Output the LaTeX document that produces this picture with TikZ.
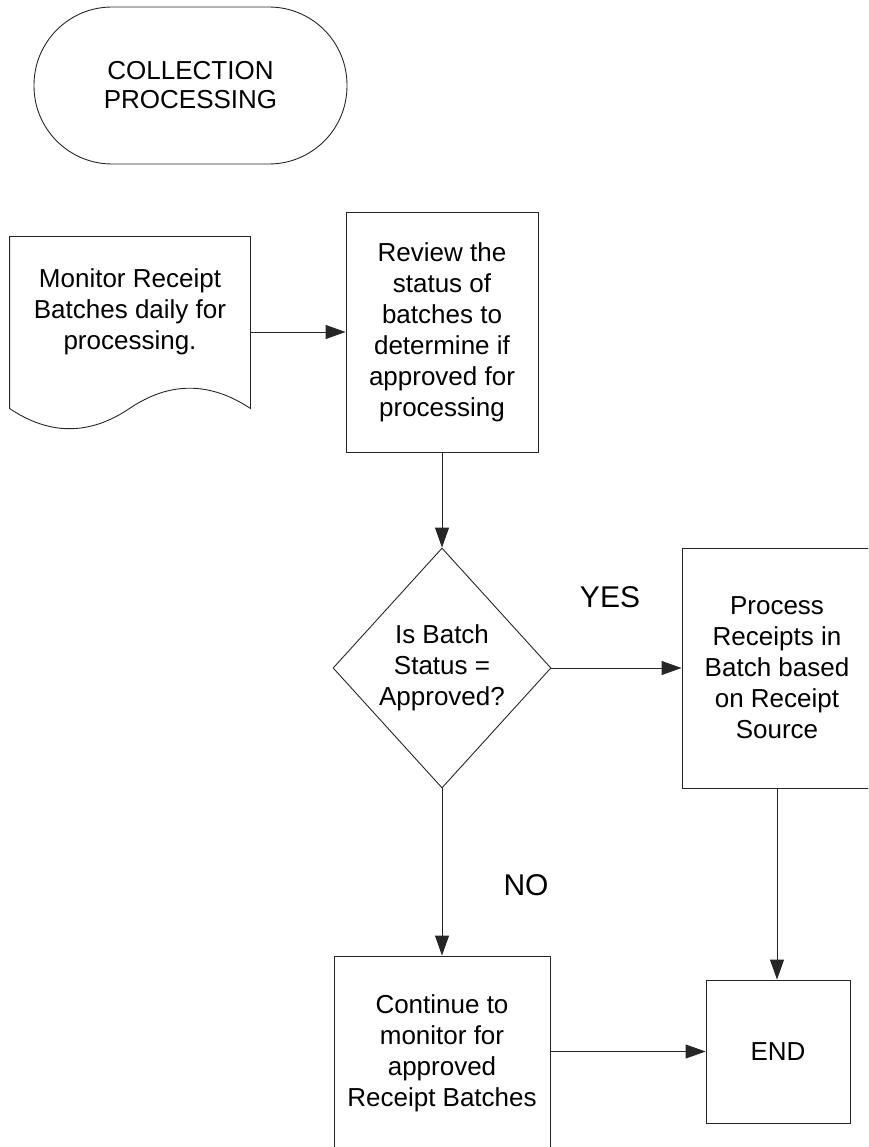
\documentclass[tikz,border=0pt]{standalone}
\usepackage{fontspec}
\setmainfont{Liberation Sans}
\usetikzlibrary{shapes.geometric,arrows.meta}
\begin{document}
\begin{tikzpicture}[x=1pt,y=-1pt,
  line width=0.9pt,
  outline/.style={draw=black!85},
  body/.style={font=\fontsize{26}{31}\selectfont, align=center},
  stepbox/.style={outline, body, inner sep=0pt},
  flow/.style={outline, -{Triangle[length=20pt,width=14pt]}},
  tag/.style={font=\fontsize{30}{36}\selectfont}]
\useasboundingbox (0,0) rectangle (868,1147);
\clip (0,0) rectangle (868,1147);

% start terminator
\node[outline, rounded corners=78pt, minimum width=313pt, minimum height=157pt,
      inner sep=0pt, align=center, font=\fontsize{26}{29}\selectfont]
      (start) at (190.5,85.5) {COLLECTION\\PROCESSING};

% document shape with wavy bottom
\node[minimum width=240pt, minimum height=171pt, inner sep=0pt] (doc) at (130,322.5) {};
\draw[outline] (doc.north west) -- (doc.south west)
  .. controls ([xshift=40pt,yshift=-27pt]doc.south west) and ([xshift=80pt,yshift=-27pt]doc.south west)
  .. ([xshift=120pt]doc.south west)
  .. controls ([xshift=160pt,yshift=27pt]doc.south west) and ([xshift=200pt,yshift=27pt]doc.south west)
  .. (doc.south east) -- (doc.north east) -- cycle;
\node[body] (doctext) at (130,312) {Monitor Receipt\\Batches daily for\\processing.};

% process steps
\node[stepbox, minimum width=192pt, minimum height=240pt] (rev) at (442,332)
  {Review the\\status of\\batches to\\determine if\\approved for\\processing};

\node[outline, diamond, minimum width=218pt, minimum height=240pt, inner sep=0pt] (dec) at (442,668) {};
\node[body] (dectext) at (dec) {Is Batch\\Status =\\Approved?};

\node[stepbox, minimum width=190pt, minimum height=240pt] (proc) at (777,668)
  {Process\\Receipts in\\Batch based\\on Receipt\\Source};

\node[stepbox, minimum width=216pt, minimum height=194pt] (cont) at (442,1053)
  {Continue to\\monitor for\\approved\\Receipt Batches};

\node[stepbox, minimum width=144pt, minimum height=143pt] (end) at (778,1051.5) {END};

% branch labels
\node[tag] (yes) at (610,597) {YES};
\node[tag] (no) at (526,885) {NO};

% connectors
\draw[flow] (doc.east |- rev.west) -- (rev.west);
\draw[flow] (rev.south) -- (dec.north);
\draw[flow] (dec.east) -- (proc.west);
\draw[flow] (dec.south) -- (cont.north);
\draw[flow] (proc.south) -- (proc.south |- end.north);
\draw[flow] (cont.east |- end.west) -- (end.west);
\end{tikzpicture}
\end{document}
